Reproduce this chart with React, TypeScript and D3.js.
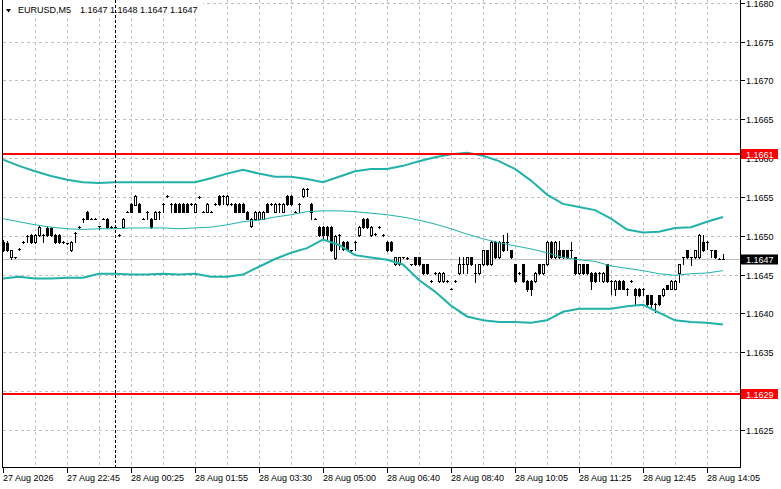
import React from 'react';
import * as d3 from 'd3';

// ---- Data (EURUSD M5) ----
const open = [
  1.16492,1.16491,1.16472,1.16472,1.16483,1.16492,1.16500,1.16501,1.16492,1.16501,
  1.16501,1.16510,1.16510,1.16501,1.16501,1.16492,1.16490,1.16481,1.16503,1.16511,
  1.16522,1.16531,1.16522,1.16522,1.16512,1.16522,1.16522,1.16511,1.16511,1.16501,
  1.16511,1.16531,1.16541,1.16540,1.16541,1.16522,1.16531,1.16522,1.16522,1.16531,
  1.16541,1.16551,1.16541,1.16541,1.16541,1.16541,1.16541,1.16541,1.16531,1.16550,
  1.16531,1.16531,1.16531,1.16541,1.16551,1.16551,1.16541,1.16541,1.16541,1.16541,
  1.16541,1.16531,1.16513,1.16522,1.16522,1.16522,1.16541,1.16541,1.16531,1.16541,
  1.16531,1.16551,1.16551,1.16531,1.16541,1.16551,1.16560,1.16541,1.16522,1.16511,
  1.16511,1.16511,1.16511,1.16471,1.16501,1.16492,1.16492,1.16481,1.16492,1.16501,
  1.16522,1.16522,1.16501,1.16502,1.16511,1.16501,1.16492,1.16492,1.16463,1.16463,
  1.16472,1.16471,1.16463,1.16472,1.16472,1.16463,1.16463,1.16442,1.16452,1.16442,
  1.16442,1.16442,1.16432,1.16442,1.16452,1.16463,1.16463,1.16472,1.16452,1.16452,
  1.16463,1.16481,1.16463,1.16492,1.16472,1.16492,1.16492,1.16481,1.16463,1.16452,
  1.16463,1.16442,1.16442,1.16442,1.16463,1.16452,1.16463,1.16492,1.16472,1.16481,
  1.16481,1.16481,1.16481,1.16472,1.16452,1.16463,1.16463,1.16452,1.16452,1.16452,
  1.16442,1.16463,1.16442,1.16432,1.16442,1.16442,1.16432,1.16442,1.16432,1.16432,
  1.16432,1.16423,1.16423,1.16412,1.16423,1.16423,1.16436,1.16432,1.16432,1.16452,
  1.16472,1.16481,1.16472,1.16472,1.16472,1.16492,1.16492,1.16481,1.16481,1.16470,
  1.16470,
];
const high = [
  1.16494,1.16493,1.16482,1.16473,1.16484,1.16493,1.16501,1.16502,1.16502,1.16512,
  1.16502,1.16512,1.16511,1.16502,1.16502,1.16493,1.16491,1.16493,1.16505,1.16512,
  1.16523,1.16532,1.16523,1.16523,1.16513,1.16523,1.16523,1.16512,1.16512,1.16502,
  1.16523,1.16532,1.16542,1.16552,1.16542,1.16523,1.16532,1.16523,1.16532,1.16532,
  1.16542,1.16552,1.16542,1.16542,1.16542,1.16542,1.16542,1.16542,1.16542,1.16551,
  1.16532,1.16542,1.16532,1.16542,1.16552,1.16552,1.16552,1.16542,1.16542,1.16542,
  1.16542,1.16532,1.16523,1.16532,1.16532,1.16532,1.16542,1.16542,1.16542,1.16542,
  1.16542,1.16552,1.16552,1.16532,1.16542,1.16561,1.16561,1.16542,1.16523,1.16512,
  1.16512,1.16512,1.16512,1.16501,1.16502,1.16493,1.16493,1.16482,1.16493,1.16512,
  1.16523,1.16523,1.16512,1.16503,1.16512,1.16502,1.16493,1.16493,1.16473,1.16473,
  1.16473,1.16472,1.16464,1.16473,1.16473,1.16464,1.16464,1.16443,1.16453,1.16453,
  1.16453,1.16443,1.16433,1.16443,1.16473,1.16473,1.16473,1.16473,1.16463,1.16464,
  1.16482,1.16482,1.16493,1.16493,1.16493,1.16501,1.16503,1.16482,1.16464,1.16453,
  1.16464,1.16443,1.16443,1.16453,1.16464,1.16464,1.16493,1.16493,1.16493,1.16493,
  1.16482,1.16482,1.16492,1.16473,1.16464,1.16464,1.16464,1.16453,1.16453,1.16453,
  1.16453,1.16464,1.16443,1.16443,1.16443,1.16443,1.16433,1.16443,1.16433,1.16433,
  1.16433,1.16424,1.16424,1.16413,1.16424,1.16433,1.16437,1.16443,1.16443,1.16464,
  1.16473,1.16482,1.16473,1.16482,1.16502,1.16501,1.16493,1.16482,1.16482,1.16471,
  1.16476,
];
const low = [
  1.16480,1.16480,1.16470,1.16471,1.16482,1.16491,1.16492,1.16491,1.16491,1.16500,
  1.16492,1.16500,1.16500,1.16491,1.16490,1.16491,1.16489,1.16480,1.16492,1.16510,
  1.16518,1.16521,1.16521,1.16521,1.16509,1.16521,1.16510,1.16510,1.16510,1.16500,
  1.16510,1.16530,1.16530,1.16539,1.16530,1.16521,1.16522,1.16510,1.16521,1.16522,
  1.16531,1.16550,1.16531,1.16530,1.16530,1.16530,1.16530,1.16540,1.16530,1.16549,
  1.16530,1.16530,1.16530,1.16540,1.16540,1.16541,1.16540,1.16540,1.16530,1.16530,
  1.16530,1.16521,1.16511,1.16521,1.16521,1.16521,1.16530,1.16540,1.16530,1.16531,
  1.16530,1.16540,1.16540,1.16530,1.16531,1.16550,1.16551,1.16522,1.16521,1.16500,
  1.16496,1.16496,1.16480,1.16470,1.16483,1.16482,1.16482,1.16480,1.16481,1.16500,
  1.16510,1.16510,1.16500,1.16501,1.16510,1.16500,1.16480,1.16480,1.16462,1.16462,
  1.16471,1.16470,1.16462,1.16462,1.16462,1.16451,1.16451,1.16441,1.16451,1.16441,
  1.16441,1.16441,1.16431,1.16441,1.16451,1.16452,1.16452,1.16462,1.16441,1.16451,
  1.16462,1.16462,1.16462,1.16471,1.16471,1.16480,1.16481,1.16471,1.16441,1.16451,
  1.16441,1.16429,1.16423,1.16441,1.16451,1.16451,1.16462,1.16471,1.16471,1.16471,
  1.16471,1.16471,1.16472,1.16451,1.16451,1.16451,1.16451,1.16432,1.16441,1.16442,
  1.16441,1.16441,1.16425,1.16423,1.16431,1.16431,1.16423,1.16441,1.16412,1.16422,
  1.16423,1.16411,1.16405,1.16402,1.16411,1.16422,1.16431,1.16431,1.16431,1.16441,
  1.16463,1.16471,1.16462,1.16471,1.16471,1.16480,1.16483,1.16472,1.16471,1.16470,
  1.16470,
];
const close = [
  1.16481,1.16481,1.16481,1.16472,1.16483,1.16492,1.16500,1.16492,1.16501,1.16511,
  1.16501,1.16501,1.16501,1.16492,1.16492,1.16492,1.16490,1.16492,1.16504,1.16511,
  1.16522,1.16522,1.16522,1.16522,1.16512,1.16522,1.16511,1.16511,1.16511,1.16501,
  1.16522,1.16531,1.16531,1.16551,1.16531,1.16522,1.16531,1.16511,1.16531,1.16531,
  1.16541,1.16551,1.16541,1.16531,1.16531,1.16531,1.16531,1.16541,1.16541,1.16550,
  1.16531,1.16541,1.16531,1.16541,1.16541,1.16551,1.16551,1.16541,1.16531,1.16531,
  1.16531,1.16522,1.16522,1.16531,1.16531,1.16531,1.16531,1.16541,1.16541,1.16541,
  1.16541,1.16541,1.16541,1.16531,1.16541,1.16560,1.16560,1.16531,1.16522,1.16501,
  1.16501,1.16501,1.16481,1.16500,1.16501,1.16483,1.16483,1.16481,1.16492,1.16511,
  1.16511,1.16511,1.16511,1.16502,1.16511,1.16501,1.16481,1.16481,1.16472,1.16472,
  1.16472,1.16471,1.16463,1.16463,1.16463,1.16452,1.16452,1.16442,1.16452,1.16452,
  1.16452,1.16442,1.16432,1.16442,1.16463,1.16463,1.16472,1.16463,1.16452,1.16463,
  1.16481,1.16463,1.16492,1.16472,1.16492,1.16481,1.16492,1.16472,1.16442,1.16452,
  1.16442,1.16431,1.16432,1.16452,1.16452,1.16463,1.16492,1.16472,1.16492,1.16472,
  1.16472,1.16472,1.16481,1.16452,1.16463,1.16452,1.16452,1.16442,1.16442,1.16452,
  1.16452,1.16442,1.16442,1.16442,1.16432,1.16432,1.16432,1.16442,1.16423,1.16423,
  1.16432,1.16412,1.16412,1.16412,1.16412,1.16432,1.16432,1.16442,1.16442,1.16463,
  1.16472,1.16472,1.16472,1.16481,1.16501,1.16481,1.16492,1.16481,1.16472,1.16470,
  1.16470,
];

// Bollinger Bands (20, 2) read every 4 bars
const bandIdx = d3.range(0, 181, 4);
const bandUpper = [
  1.16598,1.16590,1.16583,1.16577,1.16572,1.16569,1.16568,1.16569,1.16569,1.16569,
  1.16569,1.16569,1.16569,1.16574,1.16580,1.16585,1.16580,1.16576,1.16576,1.16573,
  1.16569,1.16576,1.16583,1.16586,1.16586,1.16590,1.16596,1.16601,1.16605,1.16607,
  1.16603,1.16596,1.16586,1.16571,1.16553,1.16541,1.16537,1.16533,1.16522,1.16508,
  1.16504,1.16505,1.16510,1.16511,1.16518,1.16524,
];
const bandMiddle = [
  1.16522,1.16518,1.16514,1.16511,1.16509,1.16508,1.16509,1.16509,1.16510,1.16510,
  1.16510,1.16509,1.16510,1.16511,1.16514,1.16518,1.16520,1.16524,1.16527,1.16531,
  1.16532,1.16532,1.16531,1.16529,1.16527,1.16524,1.16520,1.16515,1.16509,1.16502,
  1.16496,1.16491,1.16487,1.16483,1.16478,1.16472,1.16469,1.16467,1.16461,1.16458,
  1.16455,1.16451,1.16449,1.16451,1.16452,1.16455,
];
const bandLower = [
  1.16445,1.16447,1.16445,1.16445,1.16446,1.16446,1.16451,1.16451,1.16450,1.16450,
  1.16451,1.16450,1.16451,1.16447,1.16447,1.16450,1.16460,1.16470,1.16478,1.16484,
  1.16495,1.16488,1.16475,1.16472,1.16469,1.16463,1.16443,1.16428,1.16410,1.16396,
  1.16391,1.16389,1.16389,1.16388,1.16391,1.16402,1.16406,1.16406,1.16406,1.16409,
  1.16411,1.16401,1.16391,1.16389,1.16388,1.163855,
];

const timeLabels = [
  '27 Aug 2026', '27 Aug 22:45', '28 Aug 00:25', '28 Aug 01:55', '28 Aug 03:30', '28 Aug 05:00',
  '28 Aug 06:40', '28 Aug 08:40', '28 Aug 10:05', '28 Aug 11:25', '28 Aug 12:45', '28 Aug 14:05',
];
const timeLabelIdx = [0, 16, 32, 48, 64, 80, 96, 112, 128, 144, 160, 176];
const gridIdx = d3.range(8, 177, 8);
const priceTicks = [1.1625, 1.1630, 1.1635, 1.1640, 1.1645, 1.1650, 1.1655, 1.1660, 1.1665, 1.1670, 1.1675, 1.1680];
const levelPrices = [1.16605, 1.16296];
const levelLabels = ['1.1661', '1.1629'];
const bidPrice = 1.1647;
const bidLabel = '1.1647';
const separatorIdx = 28;
const symbolText = 'EURUSD,M5';
const ohlcText = '1.1647 1.1648 1.1647 1.1647';

const W = 781;
const H = 489;
const FONT = "'Liberation Sans', Arial, sans-serif";

export default function App() {
  const x = d3.scaleLinear().domain([0, 180]).range([3, 723]);
  const y = d3.scaleLinear().domain([1.1625, 1.168]).range([429.8, 2.8]);
  const plotL = 2.5, plotR = 740.5, plotB = 467.5;

  const row = (p: number) => Math.round(y(p));

  const line = d3.line<number>()
    .x((_, i) => x(bandIdx[i]))
    .y((d) => y(d));

  const candles = open.map((o, i) => {
    const c = close[i];
    const cx = Math.round(x(i));
    const yt = row(Math.max(o, c));
    const yb = row(Math.min(o, c));
    const yh = row(high[i]);
    const yl = row(low[i]);
    const parts: React.ReactNode[] = [];
    if (yl > yh) {
      parts.push(<line key="w" x1={cx + 0.5} x2={cx + 0.5} y1={yh} y2={yl + 1} stroke="#000" strokeWidth={1} />);
    }
    if (yt === yb) {
      parts.push(<line key="b" x1={cx - 1} x2={cx + 2} y1={yt + 0.5} y2={yt + 0.5} stroke="#000" strokeWidth={1} />);
    } else if (c > o) {
      parts.push(<rect key="b" x={cx - 0.5} y={yt + 0.5} width={2} height={yb - yt} fill="#fff" stroke="#000" strokeWidth={1} />);
    } else {
      parts.push(<rect key="b" x={cx - 1} y={yt} width={3} height={yb - yt + 1} fill="#000" />);
    }
    return <g key={i}>{parts}</g>;
  });

  const bidY = row(bidPrice) + 0.5;

  return (
    <svg width={W} height={H} style={{ position: 'absolute', left: 0, top: 0, background: '#fff' }}
      fontFamily={FONT} fontSize={9}>
      <rect x={0} y={0} width={W} height={H} fill="#fff" />
      {/* grid */}
      <g shapeRendering="crispEdges" stroke="#c0c0c0" strokeWidth={1} strokeDasharray="3,3">
        {gridIdx.map((g) => (
          <line key={'gv' + g} x1={Math.round(x(g)) + 0.5} x2={Math.round(x(g)) + 0.5} y1={0} y2={plotB} />
        ))}
        {priceTicks.map((p) => (
          <line key={'gh' + p} x1={plotL} x2={plotR} y1={row(p) + 0.5} y2={row(p) + 0.5} />
        ))}
      </g>

      {/* title */}
      <rect x={3} y={0} width={200} height={14} fill="#fff" />
      <polygon points="6,9 11,9 8.5,12.5" fill="#000" />
      <text x={18} y={13} fill="#000">{symbolText}</text>
      <text x={80} y={13} fill="#000">{ohlcText}</text>

      {/* bid line */}
      <line x1={plotL} x2={plotR} y1={bidY} y2={bidY} stroke="#c0c0c0" strokeWidth={1} shapeRendering="crispEdges" />

      {/* candles */}
      <g shapeRendering="crispEdges">{candles}</g>

      {/* bollinger bands */}
      <path d={line(bandUpper) || ''} fill="none" stroke="#20b2aa" strokeWidth={2} />
      <path d={line(bandMiddle) || ''} fill="none" stroke="#20b2aa" strokeWidth={1} />
      <path d={line(bandLower) || ''} fill="none" stroke="#20b2aa" strokeWidth={2} />

      {/* horizontal levels */}
      {levelPrices.map((p) => (
        <line key={'lv' + p} x1={plotL} x2={plotR} y1={y(p)} y2={y(p)} stroke="#ff0000" strokeWidth={2} shapeRendering="crispEdges" />
      ))}

      {/* separator */}
      <line x1={Math.round(x(separatorIdx)) + 0.5} x2={Math.round(x(separatorIdx)) + 0.5} y1={0} y2={plotB}
        stroke="#000" strokeWidth={1} strokeDasharray="3,2" shapeRendering="crispEdges" />

      {/* frame */}
      <g stroke="#000" strokeWidth={1} shapeRendering="crispEdges">
        <line x1={plotL} x2={plotL} y1={0} y2={plotB + 0.5} />
        <line x1={plotL} x2={plotR} y1={plotB} y2={plotB} />
        <line x1={plotR} x2={plotR} y1={0} y2={plotB + 0.5} />
      </g>

      {/* bottom axis */}
      <g>
        {timeLabelIdx.map((t, k) => {
          const tx = Math.round(x(t));
          return (
            <g key={'t' + t}>
              <line x1={tx + 0.5} x2={tx + 0.5} y1={468} y2={473} stroke="#000" shapeRendering="crispEdges" />
              <text x={tx} y={481} fill="#000">{timeLabels[k]}</text>
            </g>
          );
        })}
      </g>

      {/* right axis */}
      <g>
        {priceTicks.map((p) => (
          <g key={'pt' + p}>
            <line x1={741} x2={745} y1={row(p) + 0.5} y2={row(p) + 0.5} stroke="#000" shapeRendering="crispEdges" />
            <text x={746} y={row(p) + 4} fill="#000">{d3.format('.4f')(p)}</text>
          </g>
        ))}
      </g>

      {/* level tags */}
      {levelPrices.map((p, k) => (
        <g key={'tag' + p}>
          <rect x={741} y={Math.round(y(p)) - 5} width={37} height={10} fill="#ff0000" />
          <text x={746} y={Math.round(y(p)) + 3.5} fill="#fff">{levelLabels[k]}</text>
        </g>
      ))}
      <rect x={741} y={row(bidPrice) - 4.5} width={37} height={10} fill="#000" />
      <text x={746} y={row(bidPrice) + 4} fill="#fff">{bidLabel}</text>
    </svg>
  );
}
